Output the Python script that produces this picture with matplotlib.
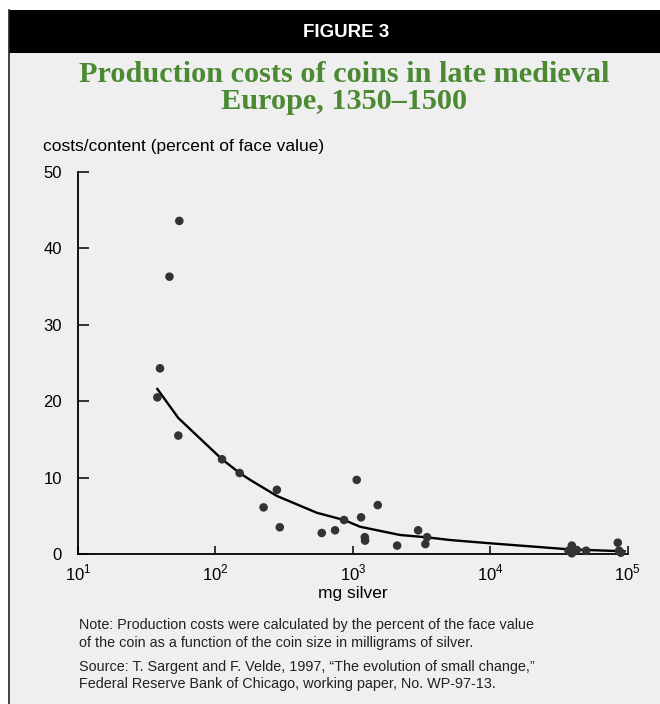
import matplotlib
matplotlib.use('Agg')
import matplotlib.pyplot as plt
from matplotlib.patches import Rectangle
from matplotlib.lines import Line2D

# scatter points
mg_silver = [54.6, 46.3, 39.5, 37.8, 53.7, 111.7, 150, 280, 224, 294,
             594, 742, 863, 1067, 1148, 1518, 1222, 1227, 2100, 2985,
             3470, 3370, 39200, 37100, 39200, 42600, 49800, 84700, 86500, 89100]
costs = [43.6, 36.3, 24.3, 20.5, 15.5, 12.4, 10.6, 8.4, 6.1, 3.5,
         2.75, 3.1, 4.45, 9.7, 4.8, 6.4, 2.2, 1.75, 1.1, 3.1,
         2.2, 1.3, 1.1, 0.43, 0.09, 0.52, 0.43, 1.48, 0.43, 0.17]

# fitted curve
curve_x = [37.8, 53.7, 111.7, 150, 179, 280, 546, 863, 1128, 2204, 3470, 5093, 10000, 37500, 95000]
curve_y = [21.6, 17.8, 12.4, 10.6, 9.7, 7.6, 5.4, 4.45, 3.57, 2.49, 2.18, 1.83, 1.4, 0.61, 0.35]

xticks = [10, 100, 1000, 10000, 100000]
xticklabels = ['$10^1$', '$10^2$', '$10^3$', '$10^4$', '$10^5$']
yticks = [0, 10, 20, 30, 40, 50]

W, H = 660, 704
bg = '#efefef'
green = '#4b8a32'
sans = ['Liberation Sans', 'DejaVu Sans']
plt.rcParams['font.family'] = sans
plt.rcParams['mathtext.fontset'] = 'custom'
plt.rcParams['mathtext.rm'] = 'Liberation Sans'

fig = plt.figure(figsize=(W / 100, H / 100), dpi=100, facecolor='white')

# panel background, header band and border
fig.patches.append(Rectangle((8.5 / W, 0), 1, (H - 10) / H, transform=fig.transFigure,
                             facecolor=bg, edgecolor='none', zorder=-10))
fig.patches.append(Rectangle((8.5 / W, (H - 53) / H), 1, 43 / H, transform=fig.transFigure,
                             facecolor='black', edgecolor='none', zorder=-9))
fig.lines.append(Line2D([8.5 / W, 8.5 / W], [0, (H - 10) / H], transform=fig.transFigure,
                        color='#222222', lw=1.2, zorder=-8))

fig.text(346 / W, 1 - 32.5 / H, 'FIGURE 3', color='white', fontsize=13.5, fontweight='bold',
         ha='center', va='center', family=sans)
fig.text(344 / W, 1 - 88 / H, 'Production costs of coins in late medieval\nEurope, 1350\u20131500',
         color=green, fontsize=21.8, fontweight='bold', ha='center', va='center',
         family=['Liberation Serif', 'DejaVu Serif'], linespacing=0.98)

ax = fig.add_axes([78 / W, 150 / H, (627.7 - 78) / W, 382 / H])
ax.patch.set_alpha(0)
ax.set_xscale('log')
ax.set_xlim(10, 100000)
ax.set_ylim(0, 50)

ax.plot(curve_x, curve_y, color='black', lw=1.7, zorder=3)
ax.scatter(mg_silver, costs, s=38, color='#333333', edgecolors='none', zorder=4, clip_on=False)

ax.set_xticks(xticks)
ax.set_xticklabels(xticklabels)
ax.xaxis.set_minor_locator(matplotlib.ticker.NullLocator())
ax.set_yticks(yticks)
ax.tick_params(axis='y', direction='in', length=8, width=1.1, labelsize=12, pad=11.5)
ax.tick_params(axis='x', direction='in', length=6, width=1.1, labelsize=12, pad=6)
for s in ['top', 'right']:
    ax.spines[s].set_visible(False)
for s in ['left', 'bottom']:
    ax.spines[s].set_linewidth(1.3)

ax.set_xlabel('mg silver', fontsize=12.5, labelpad=2)
fig.text(43 / W, 1 - 147 / H, 'costs/content (percent of face value)', fontsize=12.5,
         ha='left', va='center')

note = ('Note: Production costs were calculated by the percent of the face value\n'
        'of the coin as a function of the coin size in milligrams of silver.')
source = ('Source: T. Sargent and F. Velde, 1997, \u201cThe evolution of small change,\u201d\n'
          'Federal Reserve Bank of Chicago, working paper, No. WP-97-13.')
fig.text(79 / W, 1 - 634 / H, note, fontsize=10.4, ha='left', va='center', color='#222222',
         linespacing=1.3)
fig.text(79 / W, 1 - 675.5 / H, source, fontsize=10.4, ha='left', va='center', color='#222222',
         linespacing=1.3)

fig.savefig('out.png', dpi=100, facecolor='white')
